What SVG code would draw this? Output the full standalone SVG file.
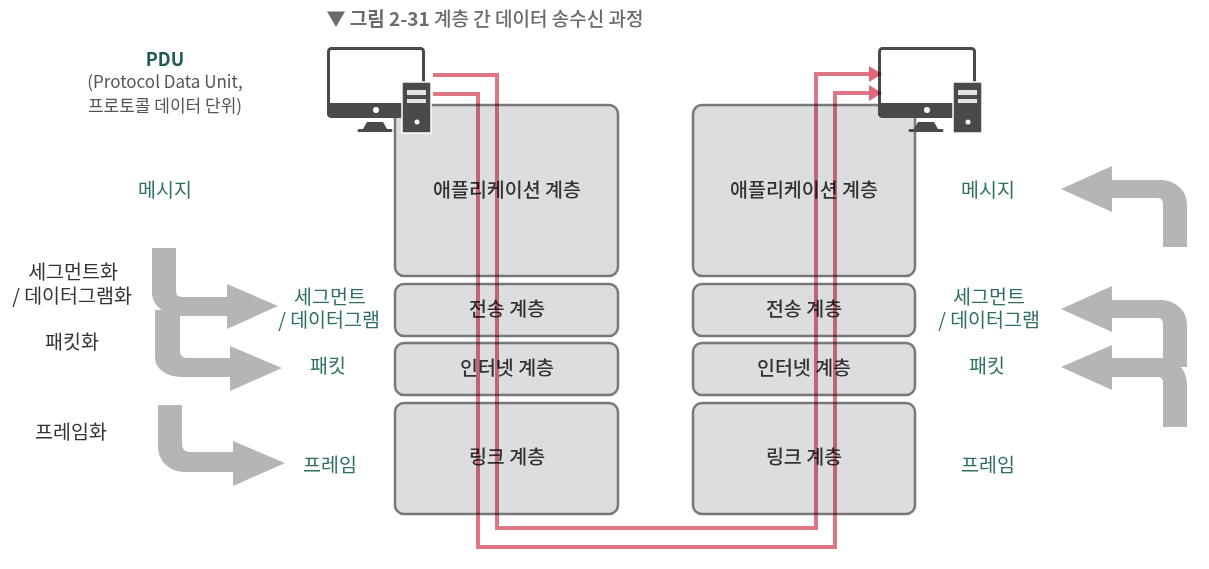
<svg xmlns="http://www.w3.org/2000/svg" width="1209" height="569" viewBox="0 0 1209 569">
<style>
text{font-family:"Noto Sans CJK KR","Noto Sans",sans-serif;text-anchor:middle}
.box{fill:#dcddde;stroke:#77787a;stroke-width:2.5}
.lay{font-size:19.5px;fill:#333;font-weight:500}
.g{font-size:19.5px;fill:#2f6f62}
.k{font-size:19.5px;fill:#333}
.ar{fill:#b5b5b5}
.red{fill:none;stroke:#de7686;stroke-width:4}
.dk{fill:#4a4a4c}
#connectors{mix-blend-mode:multiply}
</style>
<defs>
<marker id="h" viewBox="0 0 13 16" refX="12" refY="8" markerWidth="13" markerHeight="16" markerUnits="userSpaceOnUse" orient="auto"><path d="M0 0L13 8L0 16z" fill="#e0677c"/></marker>
<g id="pc">
<rect x="1.5" y="1.5" width="95" height="68" rx="3" fill="#fff" stroke="#4a4a4c" stroke-width="3"/>
<path class="dk" d="M0 56H98V66a4 4 0 0 1-4 4H4a4 4 0 0 1-4-4z"/>
<circle cx="49" cy="63" r="3" fill="#fff"/>
<path class="dk" d="M40 75H56L60 82H64a1.500 1.500 0 0 1 0 3H32a1.500 1.500 0 0 1 0-3H36z"/>
<rect x="75" y="35" width="29" height="51" fill="#4a4a4c" stroke="#fff" stroke-width="1.500"/>
<rect x="80" y="43" width="19" height="5" fill="#e4e4e4"/>
<rect x="80" y="52" width="19" height="4" fill="#e4e4e4"/>
<circle cx="90" cy="75" r="2.500" fill="#fff"/>
</g>
</defs>
<rect width="1209" height="569" fill="#fff"/>
<text id="title" x="485" y="26" style="font-size:19px;fill:#6b6b6b;font-weight:500">▼ <tspan font-weight="700">그림 2-31</tspan>  계층 간 데이터 송수신 과정</text>
<g id="left-stack">
<g id="l-app"><rect class="box" x="395" y="105" width="223" height="171" rx="9"/><text class="lay" x="507" y="197">애플리케이션 계층</text></g>
<g id="l-trans"><rect class="box" x="395" y="284" width="223" height="52" rx="9"/><text class="lay" x="507" y="316">전송 계층</text></g>
<g id="l-net"><rect class="box" x="395" y="343" width="223" height="52" rx="9"/><text class="lay" x="507" y="375">인터넷 계층</text></g>
<g id="l-link"><rect class="box" x="395" y="403" width="223" height="111" rx="9"/><text class="lay" x="507" y="464">링크 계층</text></g>
</g>
<g id="right-stack">
<g id="r-app"><rect class="box" x="693" y="105" width="222" height="171" rx="9"/><text class="lay" x="804" y="197">애플리케이션 계층</text></g>
<g id="r-trans"><rect class="box" x="693" y="284" width="222" height="52" rx="9"/><text class="lay" x="804" y="316">전송 계층</text></g>
<g id="r-net"><rect class="box" x="693" y="343" width="222" height="52" rx="9"/><text class="lay" x="804" y="375">인터넷 계층</text></g>
<g id="r-link"><rect class="box" x="693" y="403" width="222" height="111" rx="9"/><text class="lay" x="804" y="464">링크 계층</text></g>
</g>
<g id="pc-left"><use href="#pc" x="327" y="47"/></g>
<g id="pc-right"><use href="#pc" x="878" y="47"/></g>
<g id="connectors">
<path class="red" d="M433 75H497V528H816V74H881" marker-end="url(#h)"/>
<path class="red" d="M433 94H478V547H835V93H881" marker-end="url(#h)"/>
</g>
<g id="pdu">
<text x="165" y="66" style="font-size:18px;fill:#1f5c50;font-weight:700">PDU</text>
<text style="font-size:17px;fill:#555"><tspan x="165" y="88">(Protocol Data Unit,</tspan><tspan x="165" y="112">프로토콜 데이터 단위)</tspan></text>
</g>
<g id="left-labels">
<text class="g" x="165" y="197">메시지</text>
<text class="k"><tspan x="73" y="279">세그먼트화</tspan><tspan x="72" y="303">/ 데이터그램화</tspan></text>
<text class="k" x="72" y="349">패킷화</text>
<text class="k" x="71" y="439">프레임화</text>
<text class="g"><tspan x="330" y="304">세그먼트</tspan><tspan x="329" y="327">/ 데이터그램</tspan></text>
<text class="g" x="328" y="373">패킷</text>
<text class="g" x="330" y="472">프레임</text>
</g>
<g id="right-labels">
<text class="g" x="988" y="197">메시지</text>
<text class="g"><tspan x="989" y="304">세그먼트</tspan><tspan x="989" y="327">/ 데이터그램</tspan></text>
<text class="g" x="987" y="373">패킷</text>
<text class="g" x="988" y="472">프레임</text>
</g>
<g id="flow-arrows">
<path class="ar" d="M155 310V358C155 368 166 377 182 377H230V391L282 368L230 346V358H187C182 358 180 355 180 350V316H227V329L278 306L227 284V297H182C178 297 176 295 176 290V248H152V293C152 300 156 306 162 310z"/>
<path class="ar" d="M158 405V446C158 462 170 472 186 472H233V486L285 463L233 441V452H190C185 452 182 449 182 444V405z"/>
<path class="ar" d="M1187 247V205C1187 190 1175 180 1160 180H1112V166L1061 189L1112 212V198H1157C1161 198 1163 200 1163 204V247z"/>
<path class="ar" d="M1187 367V325C1187 310 1175 300 1160 300H1112V286L1061 309L1112 332V318H1157C1161 318 1163 320 1163 324V358H1112V345L1061 367L1112 390V377H1157C1161 377 1163 379 1163 383V427H1187V385C1187 378 1185 372 1181 367z"/>
</g>
</svg>
